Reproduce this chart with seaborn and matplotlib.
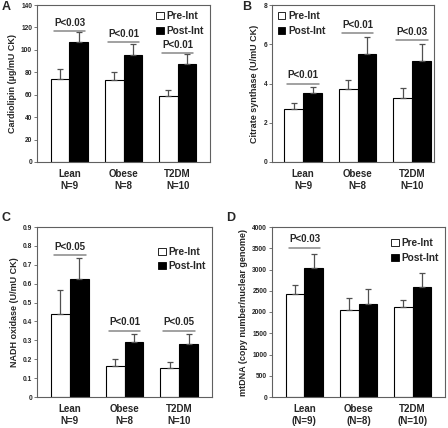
import matplotlib
matplotlib.use("Agg")
import matplotlib.pyplot as plt
import pandas as pd
import seaborn as sns

GROUPS_A = ["Lean\nN=9", "Obese\nN=8", "T2DM\nN=10"]
GROUPS_D = ["Lean\n(N=9)", "Obese\n(N=8)", "T2DM\n(N=10)"]
PHASES = ["Pre-Int", "Post-Int"]

# panel A: cardiolipin
card_pre = [74, 73.5, 59]
card_post = [107, 95, 87.5]
card_pre_err = [9, 6.5, 5]
card_post_err = [9, 10, 8.5]
card_p = ["P<0.03", "P<0.01", "P<0.01"]
card_p_y = [117, 107, 97]

# panel B: citrate synthase
cs_pre = [2.7, 3.7, 3.28]
cs_post = [3.5, 5.5, 5.15]
cs_pre_err = [0.3, 0.5, 0.5]
cs_post_err = [0.3, 0.85, 0.88]
cs_p = ["P<0.01", "P<0.01", "P<0.03"]
cs_p_y = [4.0, 6.55, 6.2]

# panel C: NADH oxidase
nadh_pre = [0.44, 0.165, 0.155]
nadh_post = [0.625, 0.29, 0.28]
nadh_pre_err = [0.125, 0.035, 0.03]
nadh_post_err = [0.11, 0.045, 0.055]
nadh_p = ["P<0.05", "P<0.01", "P<0.05"]
nadh_p_y = [0.75, 0.35, 0.35]

# panel D: mtDNA
mt_pre = [2420, 2050, 2110]
mt_post = [3040, 2180, 2600]
mt_pre_err = [210, 290, 170]
mt_post_err = [320, 350, 310]
mt_p = ["P<0.03", None, None]
mt_p_y = [3510, None, None]

sns.set_style("white")
plt.rcParams["font.family"] = ["Liberation Sans", "DejaVu Sans"]
plt.rcParams["font.weight"] = "bold"

FRAME = "#606060"


def panel(ax, groups, pre, post, pre_err, post_err, pvals, p_y, ylim, step,
          ylabel, legend_loc, legend_anchor, xlim):
    df = pd.DataFrame({
        "group": groups * 2,
        "phase": [PHASES[0]] * 3 + [PHASES[1]] * 3,
        "value": pre + post,
    })
    sns.barplot(data=df, x="group", y="value", hue="phase", order=groups,
                hue_order=PHASES, palette=["white", "black"], edgecolor="black",
                linewidth=0.8, errorbar=None, width=0.69, saturation=1, ax=ax)
    errs = pre_err + post_err
    bars = [p for p in ax.patches if p.get_height() > 0][:6]
    for bar, e in zip(bars, errs):
        xc = bar.get_x() + bar.get_width() / 2
        ax.errorbar(xc, bar.get_height(), yerr=[[0], [e]], color="#505050",
                    capsize=2.5, elinewidth=0.9, capthick=0.9)
    for i, (p, y) in enumerate(zip(pvals, p_y)):
        if p is None:
            continue
        ax.plot([i - 0.29, i + 0.29], [y, y], color="#888888", lw=1.1)
        ax.text(i, y + (ylim[1] * 0.02), p, ha="center", va="bottom",
                fontsize=7, fontweight="bold")
    ax.set_ylim(*ylim)
    ax.set_xlim(*xlim)
    ax.set_yticks([step * k for k in range(int(round(ylim[1] / step)) + 1)])
    ax.tick_params(axis="y", labelsize=4.8, length=2, width=0.6, pad=1.5,
                   left=True, color=FRAME)
    ax.tick_params(axis="x", labelsize=7, length=0, pad=5)
    for lab in ax.get_yticklabels() + ax.get_xticklabels():
        lab.set_fontweight("bold")
    ax.set_xlabel("")
    ax.set_ylabel(ylabel, fontsize=6.5, fontweight="bold", labelpad=3)
    for s in ax.spines.values():
        s.set_color(FRAME)
        s.set_linewidth(0.8)
        s.set_visible(True)
    leg = ax.legend(loc=legend_loc, bbox_to_anchor=legend_anchor, frameon=False,
                    fontsize=7.3, handlelength=0.7, handleheight=0.7,
                    handletextpad=0.3, labelspacing=0.45, borderaxespad=0.2)
    for t in leg.get_texts():
        t.set_fontweight("bold")
    for h in leg.legend_handles:
        h.set_linewidth(0.6)


fig = plt.figure(figsize=(4.48, 4.28), dpi=100)
W, H = 448, 428


def add_axes(l, t, r, b):
    return fig.add_axes([l / W, 1 - b / H, (r - l) / W, (b - t) / H])


axA = add_axes(37, 5, 210, 162)
axB = add_axes(272, 5, 434, 162)
axC = add_axes(37, 227, 212, 397)
axD = add_axes(272, 227, 445, 397)

panel(axA, GROUPS_A, card_pre, card_post, card_pre_err, card_post_err,
      card_p, card_p_y, (0, 140), 20, "Cardiolipin (µg/mU CK)",
      "upper right", (1.0, 1.0), (-0.6, 2.6))
panel(axB, GROUPS_A, cs_pre, cs_post, cs_pre_err, cs_post_err,
      cs_p, cs_p_y, (0, 8), 2, "Citrate synthase (U/mU CK)",
      "upper left", (0.0, 1.0), (-0.57, 2.4))
panel(axC, GROUPS_A, nadh_pre, nadh_post, nadh_pre_err, nadh_post_err,
      nadh_p, nadh_p_y, (0, 0.9), 0.1, "NADH oxidase (U/mU CK)",
      "upper right", (1.0, 0.92), (-0.6, 2.6))
panel(axD, GROUPS_D, mt_pre, mt_post, mt_pre_err, mt_post_err,
      mt_p, mt_p_y, (0, 4000), 500, "mtDNA (copy number/nuclear genome)",
      "upper right", (1.0, 0.97), (-0.6, 2.6))
axC.set_yticklabels([f"{0.1 * k:.1f}" if k else "0" for k in range(10)])
for lab in axC.get_yticklabels():
    lab.set_fontweight("bold")

for txt, x, y in [("A", 2, 1), ("B", 242, 1), ("C", 2, 212), ("D", 226, 212)]:
    fig.text(x / W, 1 - y / H, txt, fontsize=9, fontweight="bold",
             ha="left", va="top")

fig.savefig("out.png", dpi=100)
